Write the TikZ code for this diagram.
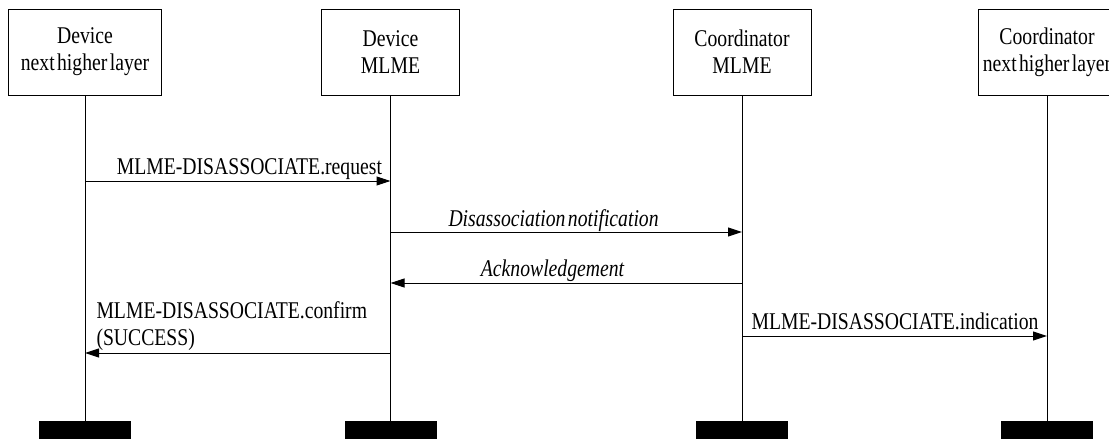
\documentclass[tikz,border=0pt]{standalone}
\usepackage{fontspec}
\setmainfont{Liberation Serif}[FakeStretch=0.82]
\usepackage{tikz}
\usetikzlibrary{arrows.meta}

\newcommand{\seqfont}{\fontsize{12}{13.5}\selectfont\spaceskip=1.2pt\relax}

\tikzset{
    layerbox/.style={draw, line width=0.5pt, minimum width=69pt, minimum height=43pt, align=center, inner sep=0pt},
    endbar/.style={fill=black, minimum width=46pt, minimum height=10pt, inner sep=0pt},
    msg/.style={line width=0.5pt, -{Triangle[length=7pt, width=4.5pt]}},
    lbl/.style={inner sep=0pt, anchor=base}
}

\begin{document}
\begin{tikzpicture}[x=0.5pt, y=-0.5pt, line width=0.5pt, font=\seqfont]
                        \path[use as bounding box, clip] (0,0) rectangle (1109,439);

                        \node (h1) at (85,52) [layerbox, minimum width=76.5pt] {Device\\next higher layer};
                        \node (h2) at (390.5,52) [layerbox] {Device\\MLME};
                        \node (h3) at (742,52) [layerbox] {Coordinator\\MLME};
                        \node (h4) at (1047,52) [layerbox] {Coordinator\\next higher layer};

                        \foreach \i/\x in {1/85, 2/390.5, 3/742, 4/1047} {
                            \node (b\i) at (\x,431) [endbar] {};
                            \draw (h\i.south) -- (b\i.north);
                        }

                        \draw[msg] (h1.south |- 0,181) -- node[lbl, pos=1, anchor=base east, xshift=-4pt, yshift=3.5pt] {MLME-DISASSOCIATE.request} (h2.south |- 0,181);
                        \draw[msg] (h2.south |- 0,232) -- node[lbl, pos=0.464, yshift=2.8pt] {\itshape Disassociation notification} (h3.south |- 0,232);
                        \draw[msg] (h3.south |- 0,283) -- node[lbl, pos=0.539, yshift=3.2pt] {\itshape Acknowledgement} (h2.south |- 0,283);
                        \draw[msg] (h2.south |- 0,353) -- node[lbl, pos=1, anchor=base west, align=left, xshift=5.5pt, yshift=3.8pt] {MLME-DISASSOCIATE.confirm\\(SUCCESS)} (h1.south |- 0,353);
                        \draw[msg] (h3.south |- 0,336) -- node[lbl, pos=1, anchor=base east, xshift=-4pt, yshift=3.5pt] {MLME-DISASSOCIATE.indication} (h4.south |- 0,336);
                    \end{tikzpicture}
\end{document}
